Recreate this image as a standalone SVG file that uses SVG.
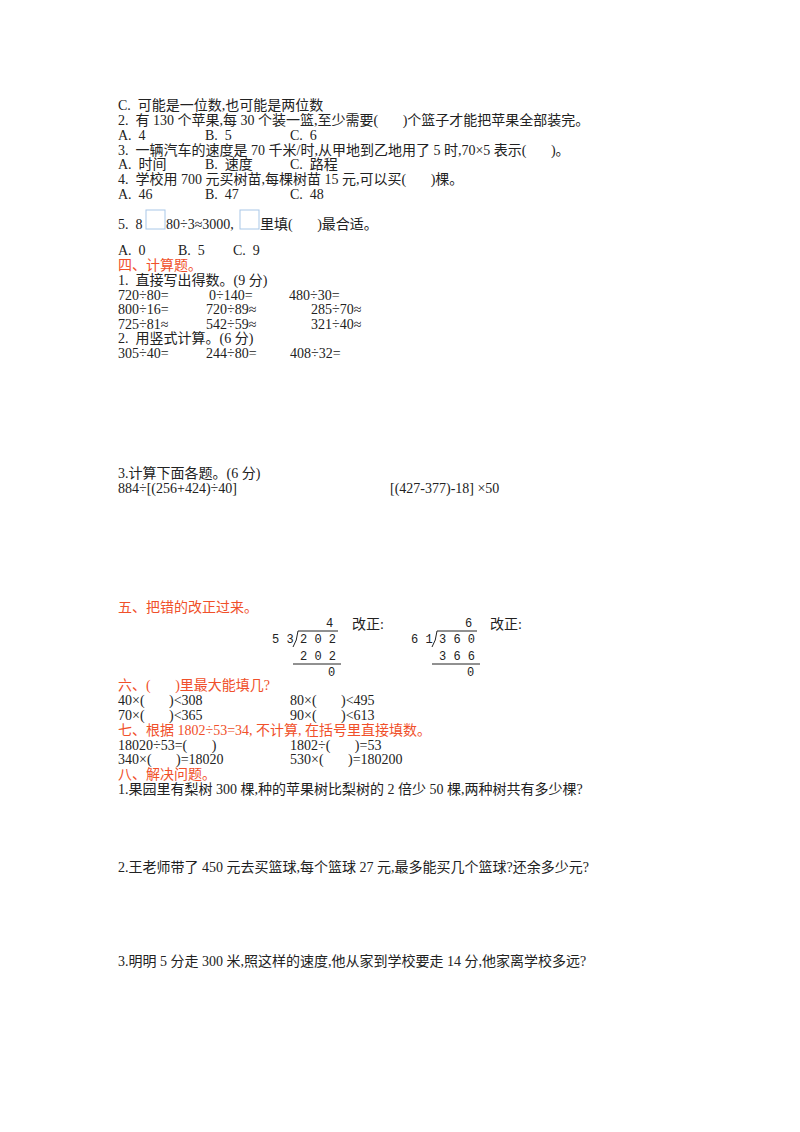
<svg xmlns="http://www.w3.org/2000/svg" width="800" height="1132" viewBox="0 0 800 1132">
<style>
text{font-family:"Liberation Serif","Noto Sans CJK SC",serif;font-size:14px;fill:#222;white-space:pre}
.r{fill:#f0502a}
.m{font-family:"Liberation Mono","Noto Sans CJK SC",monospace;font-size:12px}
.ln{stroke:#222;stroke-width:1;fill:none}
.bx{fill:none;stroke:#a9c8e8;stroke-width:1}
</style>
<rect width="800" height="1132" fill="#fff"/>
<g id="s3">
<text x="118" y="110">C.  可能是一位数,也可能是两位数</text>
<text x="118" y="125">2.  有 130 个苹果,每 30 个装一篮,至少需要(       )个篮子才能把苹果全部装完。</text>
<text x="118" y="140">A.  4</text><text x="205" y="140">B.  5</text><text x="290" y="140">C.  6</text>
<text x="118" y="155">3.  一辆汽车的速度是 70 千米/时,从甲地到乙地用了 5 时,70×5 表示(       )。</text>
<text x="118" y="169">A.  时间</text><text x="205" y="169">B.  速度</text><text x="290" y="169">C.  路程</text>
<text x="118" y="184">4.  学校用 700 元买树苗,每棵树苗 15 元,可以买(       )棵。</text>
<text x="118" y="199">A.  46</text><text x="205" y="199">B.  47</text><text x="290" y="199">C.  48</text>
<rect class="bx" x="146" y="210" width="19" height="19"/>
<rect class="bx" x="240" y="210" width="19" height="19"/>
<text x="118" y="229">5.  8</text><text x="166" y="229">80÷3≈3000,</text><text x="260" y="229">里填(       )最合适。</text>
<text x="118" y="255">A.  0</text><text x="178" y="255">B.  5</text><text x="233" y="255">C.  9</text>
</g>
<g id="s4">
<text class="r" x="118" y="270">四、计算题。</text>
<text x="118" y="285">1.  直接写出得数。(9 分)</text>
<text x="118" y="300">720÷80=</text><text x="209" y="300">0÷140=</text><text x="289" y="300">480÷30=</text>
<text x="118" y="314">800÷16=</text><text x="206" y="314">720÷89≈</text><text x="311" y="314">285÷70≈</text>
<text x="118" y="329">725÷81≈</text><text x="206" y="329">542÷59≈</text><text x="311" y="329">321÷40≈</text>
<text x="118" y="343">2.  用竖式计算。(6 分)</text>
<text x="118" y="358">305÷40=</text><text x="206" y="358">244÷80=</text><text x="290" y="358">408÷32=</text>
<text x="118" y="478">3.计算下面各题。(6 分)</text>
<text x="118" y="493">884÷[(256+424)÷40]</text><text x="390" y="493">[(427-377)-18] ×50</text>
</g>
<g id="s5">
<text class="r" x="118" y="612">五、把错的改正过来。</text>
<text class="m" x="326" y="627">4</text><text x="352" y="629">改正:</text>
<text class="m" x="272" y="643">5 3</text><path class="ln" d="M298 631 Q297 641 293 647 M298 631 H338"/>
<text class="m" x="300" y="643">2 0 2</text>
<text class="m" x="300" y="660">2 0 2</text><path class="ln" d="M293 664 H341"/>
<text class="m" x="328" y="676">0</text>
<text class="m" x="465" y="627">6</text><text x="490" y="629">改正:</text>
<text class="m" x="411" y="643">6 1</text><path class="ln" d="M437 631 Q436 641 432 647 M437 631 H477"/>
<text class="m" x="439" y="643">3 6 0</text>
<text class="m" x="439" y="660">3 6 6</text><path class="ln" d="M432 664 H480"/>
<text class="m" x="467" y="676">0</text>
</g>
<g id="s6">
<text class="r" x="118" y="690">六、(       )里最大能填几?</text>
<text x="118" y="705">40×(       )&lt;308</text><text x="290" y="705">80×(       )&lt;495</text>
<text x="118" y="720">70×(       )&lt;365</text><text x="290" y="720">90×(       )&lt;613</text>
<text class="r" x="118" y="735">七、根据 1802÷53=34, 不计算, 在括号里直接填数。</text>
<text x="118" y="750">18020÷53=(       )</text><text x="290" y="750">1802÷(       )=53</text>
<text x="118" y="764">340×(       )=18020</text><text x="290" y="764">530×(       )=180200</text>
<text class="r" x="118" y="779">八、解决问题。</text>
<text x="118" y="794">1.果园里有梨树 300 棵,种的苹果树比梨树的 2 倍少 50 棵,两种树共有多少棵?</text>
<text x="118" y="872">2.王老师带了 450 元去买篮球,每个篮球 27 元,最多能买几个篮球?还余多少元?</text>
<text x="118" y="966">3.明明 5 分走 300 米,照这样的速度,他从家到学校要走 14 分,他家离学校多远?</text>
</g>
</svg>
